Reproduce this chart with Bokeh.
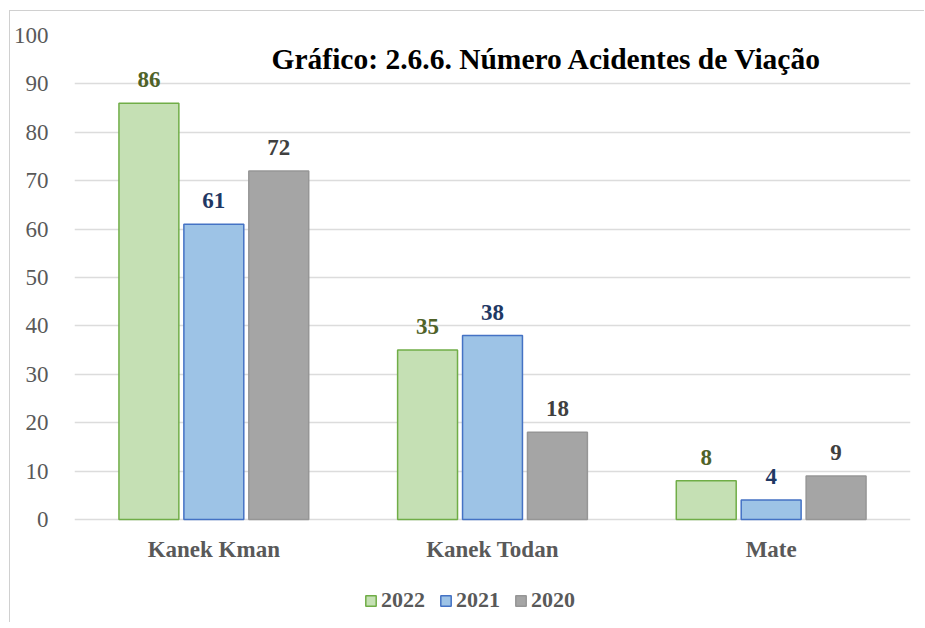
from bokeh.plotting import figure
from bokeh.models import (ColumnDataSource, FactorRange, Range1d, FixedTicker,
                          LabelSet, Label, Legend, LegendItem)
from bokeh.transform import dodge
from bokeh.embed import file_html
from bokeh.resources import INLINE

categories = ["Kanek Kman", "Kanek Todan", "Mate"]
years = ["2022", "2021", "2020"]
v2022 = [86, 35, 8]
v2021 = [61, 38, 4]
v2020 = [72, 18, 9]
y_ticks = list(range(0, 101, 10))
title_text = "Gráfico: 2.6.6. Número Acidentes de Viação"

fills = ["#c5e0b4", "#9dc3e6", "#a5a5a5"]
lines = ["#70ad47", "#4472c4", "#969696"]
label_colors = ["#4f6228", "#1f3864", "#404040"]
offsets = [-0.233, 0.0, 0.233]
series = [v2022, v2021, v2020]

SERIF = "Liberation Serif"

# the frame extends below zero to hold category labels and legend
p = figure(width=915, height=612, x_range=FactorRange(*categories, range_padding=0),
           y_range=Range1d(-21.5, 100), output_backend="svg", toolbar_location=None,
           min_border_left=63, min_border_right=15, min_border_top=24,
           min_border_bottom=0,
           styles={"margin-left": "9px", "margin-top": "10px",
                   "border-left": "1px solid #d0d0d0", "border-top": "1px solid #d0d0d0"})
p.outline_line_color = None
p.background_fill_color = "white"
p.border_fill_color = "white"

p.xgrid.grid_line_color = None
p.ygrid.grid_line_color = "#dcdcdc"
p.ygrid.grid_line_width = 1.5
p.ygrid.ticker = FixedTicker(ticks=y_ticks)

items = []
for yr, vals, fc, lc, tc, off in zip(years, series, fills, lines, label_colors, offsets):
    src = ColumnDataSource(dict(cat=categories, val=vals, txt=[str(v) for v in vals]))
    r = p.vbar(x=dodge("cat", off, range=p.x_range), top="val", width=0.215, bottom=0,
               source=src, fill_color=fc, line_color=lc, line_width=1.5)
    items.append(LegendItem(label=yr, renderers=[r]))
    ls = LabelSet(x=dodge("cat", off, range=p.x_range), y="val", text="txt", source=src,
                  text_align="center", text_baseline="alphabetic", y_offset=16,
                  text_font=SERIF, text_font_style="bold", text_font_size="23px",
                  text_color=tc)
    p.add_layout(ls)

# category labels under the bars
cat_src = ColumnDataSource(dict(cat=categories, zero=[0] * len(categories)))
p.add_layout(LabelSet(x="cat", y="zero", text="cat", source=cat_src,
                      text_align="center", text_baseline="middle", y_offset=-30,
                      text_font=SERIF, text_font_style="bold", text_font_size="23px",
                      text_color="#595959"))

p.add_layout(Label(x=1.695, y=95.2, text=title_text, text_align="center",
                   text_baseline="middle", text_font=SERIF, text_font_style="bold",
                   text_font_size="29.5px", text_color="black"))

# axes
p.xaxis.visible = False
p.yaxis.ticker = FixedTicker(ticks=y_ticks)
p.yaxis.axis_line_color = None
p.yaxis.major_tick_line_color = None
p.yaxis.minor_tick_line_color = None
p.yaxis.major_label_standoff = 20
p.yaxis.major_label_text_font = SERIF
p.yaxis.major_label_text_font_size = "23px"
p.yaxis.major_label_text_color = "#595959"

legend = Legend(items=items, orientation="horizontal", location=(290, 10),
                border_line_color=None, background_fill_alpha=0,
                label_text_font=SERIF, label_text_font_style="bold",
                label_text_font_size="22px", label_text_color="#595959",
                glyph_width=13, glyph_height=13, label_standoff=4, spacing=14,
                padding=0, margin=0)
p.add_layout(legend)

open("out.html", "w").write(file_html(p, INLINE))
